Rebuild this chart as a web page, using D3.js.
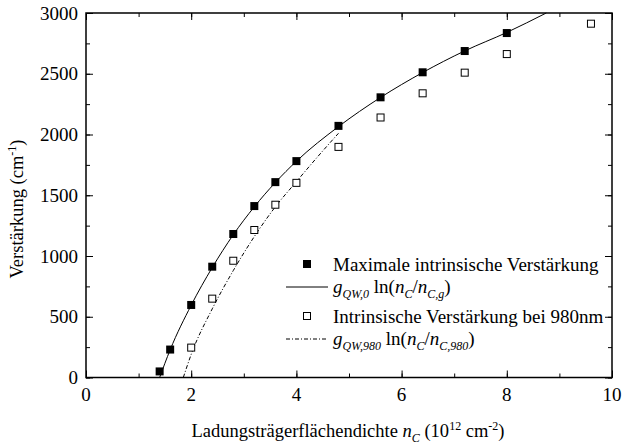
<!DOCTYPE html>
<html>
<head>
<meta charset="utf-8">
<script src="https://d3js.org/d3.v7.min.js"></script>
<style>
    body { margin: 0; background: white; }
    .frame { fill: none; stroke: black; stroke-width: 1.5px; }
</style>
</head>
<body>
<svg id="chart" width="622" height="447"></svg>

<script>
// data
const nMax = [1.4, 1.6, 2.0, 2.4, 2.8, 3.2, 3.6, 4.0, 4.8, 5.6, 6.4, 7.2, 8.0];
const gMax = [50, 230, 597, 912, 1181, 1411, 1608, 1781, 2071, 2306, 2512, 2687, 2835];

const n980 = [2.0, 2.4, 2.8, 3.2, 3.6, 4.0, 4.8, 5.6, 6.4, 7.2, 8.0, 9.6];
const g980 = [246, 649, 961, 1214, 1422, 1602, 1898, 2140, 2339, 2509, 2662, 2912];

// fit curves, points
const fitMaxX = [1.40, 1.6, 2.0, 2.4, 2.8, 3.2, 3.6, 4.0, 4.8, 5.6, 6.4, 7.2, 8.0, 8.75];
const fitMaxY = [0, 228, 595, 905, 1175, 1405, 1605, 1780, 2065, 2305, 2510, 2688, 2840, 3000];

const fit980X = [1.85, 2.0, 2.4, 2.8, 3.2, 3.6, 4.0, 4.4, 4.8];
const fit980Y = [0, 190, 565, 880, 1160, 1405, 1612, 1815, 2010];

const xTicks = [0, 2, 4, 6, 8, 10];
const yTicks = [0, 500, 1000, 1500, 2000, 2500, 3000];

const svg = d3.select("#chart");
const pL = 86, pR = 612, pT = 13, pB = 377.5;

const x = d3.scaleLinear().domain([0, 10]).range([pL, pR]);
const y = d3.scaleLinear().domain([0, 3000]).range([pB, pT]);

// ticks, inward on all four sides
const minorX = d3.range(0, 10.01, 1);
const minorY = d3.range(0, 3001, 250);

function ticks(axis, pos, vals, size) {
    svg.append("g").attr("transform", pos)
       .call(axis.tickValues(vals).tickSize(size).tickFormat(""))
       .call(g => g.select(".domain").remove())
       .call(g => g.selectAll(".tick line").attr("stroke", "black").attr("stroke-width", 1));
}
ticks(d3.axisBottom(x), "translate(0," + pB + ")", minorX, -4);
ticks(d3.axisBottom(x), "translate(0," + pB + ")", xTicks, -7);
ticks(d3.axisTop(x), "translate(0," + pT + ")", minorX, -4);
ticks(d3.axisTop(x), "translate(0," + pT + ")", xTicks, -7);
ticks(d3.axisLeft(y), "translate(" + pL + ",0)", minorY, -4);
ticks(d3.axisLeft(y), "translate(" + pL + ",0)", yTicks, -7);
ticks(d3.axisRight(y), "translate(" + pR + ",0)", minorY, -4);
ticks(d3.axisRight(y), "translate(" + pR + ",0)", yTicks, -7);

// tick labels
svg.selectAll("text.xl").data(xTicks).join("text")
   .attr("class", "xl")
   .attr("x", d => x(d)).attr("y", 401)
   .attr("text-anchor", "middle")
   .attr("font-size", 19)
   .text(d => d);

svg.selectAll("text.yl").data(yTicks).join("text")
   .attr("class", "yl")
   .attr("x", pL - 8).attr("y", d => y(d) + 6.5)
   .attr("text-anchor", "end")
   .attr("font-size", 19)
   .text(d => d);

// frame
svg.append("rect").attr("class", "frame")
   .attr("x", pL).attr("y", pT)
   .attr("width", pR - pL).attr("height", pB - pT);

// curves
const line = d3.line().x(d => x(d[0])).y(d => y(d[1])).curve(d3.curveMonotoneX);

svg.append("path")
   .datum(d3.zip(fitMaxX, fitMaxY))
   .attr("d", line)
   .attr("fill", "none").attr("stroke", "black").attr("stroke-width", 1);

svg.append("path")
   .datum(d3.zip(fit980X, fit980Y))
   .attr("d", line)
   .attr("fill", "none").attr("stroke", "black").attr("stroke-width", 1)
   .attr("stroke-dasharray", "4,2,1,2");

// markers
const s = 8;
svg.selectAll("rect.open").data(d3.zip(n980, g980)).join("rect")
   .attr("class", "open")
   .attr("x", d => x(d[0]) - s / 2 + 0.5).attr("y", d => y(d[1]) - s / 2 + 0.5)
   .attr("width", s - 1).attr("height", s - 1)
   .attr("fill", "white").attr("stroke", "black").attr("stroke-width", 1);

svg.selectAll("rect.filled").data(d3.zip(nMax, gMax)).join("rect")
   .attr("class", "filled")
   .attr("x", d => x(d[0]) - s / 2).attr("y", d => y(d[1]) - s / 2)
   .attr("width", s).attr("height", s)
   .attr("fill", "black");

// legend
const lg = svg.append("g");
const symX = 307, lineX0 = 286, lineX1 = 328, textX = 333;

// text with sub/superscripts, parts: [text, kind] with kind "", "i", "sub", "sup"
function rich(sel, parts, size, small) {
    let shift = 0;
    parts.forEach(p => {
        const t = sel.append("tspan").text(p[0]);
        let want = 0;
        if (p[1].includes("sub")) want = size * 0.28;
        if (p[1].includes("sup")) want = -size * 0.38;
        if (want !== shift) { t.attr("dy", want - shift); shift = want; }
        if (p[1].includes("sub") || p[1].includes("sup")) t.attr("font-size", small);
        if (p[1].includes("i")) t.attr("font-style", "italic");
    });
}

lg.append("rect").attr("x", symX - s / 2).attr("y", 264 - s / 2)
  .attr("width", s).attr("height", s).attr("fill", "black");
lg.append("text").attr("x", textX).attr("y", 271).attr("font-size", 19)
  .text("Maximale intrinsische Verstärkung");

lg.append("line").attr("x1", lineX0).attr("x2", lineX1).attr("y1", 287).attr("y2", 287)
  .attr("stroke", "black").attr("stroke-width", 1);
rich(lg.append("text").attr("x", textX).attr("y", 293).attr("font-size", 19),
     [["g", "i"], ["QW,0", "i sub"], [" ln(", ""], ["n", "i"], ["C", "i sub"],
      ["/", ""], ["n", "i"], ["C,g", "i sub"], [")", ""]], 19, 12);

lg.append("rect").attr("x", symX - s / 2 + 0.5).attr("y", 316 - s / 2 + 0.5)
  .attr("width", s - 1).attr("height", s - 1)
  .attr("fill", "white").attr("stroke", "black").attr("stroke-width", 1);
lg.append("text").attr("x", textX).attr("y", 323).attr("font-size", 19)
  .text("Intrinsische Verstärkung bei 980nm");

lg.append("line").attr("x1", lineX0).attr("x2", lineX1).attr("y1", 339).attr("y2", 339)
  .attr("stroke", "black").attr("stroke-width", 1).attr("stroke-dasharray", "4,2,1,2");
rich(lg.append("text").attr("x", textX).attr("y", 345).attr("font-size", 19),
     [["g", "i"], ["QW,980", "i sub"], [" ln(", ""], ["n", "i"], ["C", "i sub"],
      ["/", ""], ["n", "i"], ["C,980", "i sub"], [")", ""]], 19, 12);

// axis titles
rich(svg.append("text").attr("x", 348).attr("y", 437)
        .attr("text-anchor", "middle").attr("font-size", 18.5),
     [["Ladungsträgerflächendichte ", ""], ["n", "i"], ["C", "i sub"], [" (10", ""],
      ["12", "sup"], [" cm", ""], ["-2", "sup"], [")", ""]], 18.5, 12);

rich(svg.append("text").attr("transform", "translate(23,209) rotate(-90)")
        .attr("text-anchor", "middle").attr("font-size", 18.5),
     [["Verstärkung (cm", ""], ["-1", "sup"], [")", ""]], 18.5, 12);

svg.selectAll("text").attr("font-family", "Liberation Serif").attr("fill", "black");
</script>
</body>
</html>
